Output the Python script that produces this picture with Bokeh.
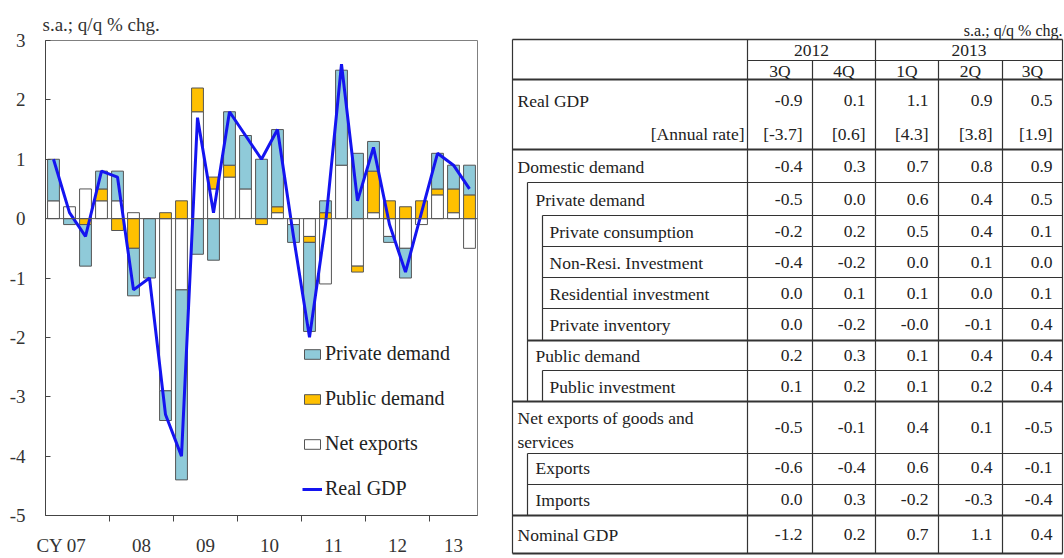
import numpy as np
from bokeh.plotting import figure
from bokeh.models import (Range1d, FixedTicker, Span, Legend, LegendItem, ColumnDataSource)
from bokeh.layouts import row
from bokeh.embed import file_html
from bokeh.resources import INLINE
from bokeh.core.properties import value

# ---------------- chart data (2007Q1 .. 2013Q3) ----------------
year_labels = ["CY 07", "08", "09", "10", "11", "12", "13"]
net_exports = [0.3, 0.2, 0.5, 0.3, 0.3, 0.1, 0.0, -2.9, -1.2, 1.8, 0.5, 0.7, 0.5, 0.0,
               0.1, -0.1, -0.3, -1.1, 0.9, -0.8, 0.1, -0.3, -0.5, -0.1, 0.4, 0.1, -0.5]
public_demand = [0.0, 0.0, -0.1, 0.2, -0.2, -0.5, 0.0, 0.1, 0.3, 0.4, 0.2, 0.2, 0.0, -0.1,
                 0.1, 0.0, -0.1, 0.1, 0.0, -0.1, 0.7, 0.3, 0.2, 0.3, 0.1, 0.4, 0.4]
private_demand = [0.7, -0.1, -0.7, 0.3, 0.5, -0.8, -1.0, -0.5, -3.2, -0.6, -0.7, 0.9, 0.9, 1.0,
                  1.3, -0.3, -1.5, 0.2, 1.6, 1.1, 0.5, -0.1, -0.5, 0.0, 0.6, 0.4, 0.5]
real_gdp = [1.0, 0.1, -0.3, 0.8, 0.7, -1.2, -1.0, -3.3, -4.0, 1.7, 0.1, 1.8, 1.4, 1.0,
            1.5, -0.3, -2.0, -0.1, 2.6, 0.3, 1.2, -0.1, -0.9, 0.1, 1.1, 0.9, 0.5]

# ---------------- table data ----------------
tbl_years = ["2012", "2013"]
tbl_quarters = ["3Q", "4Q", "1Q", "2Q", "3Q"]
tbl_real_gdp = [-0.9, 0.1, 1.1, 0.9, 0.5]
tbl_annual_rate = [-3.7, 0.6, 4.3, 3.8, 1.9]
tbl_domestic = [-0.4, 0.3, 0.7, 0.8, 0.9]
tbl_private = [-0.5, 0.0, 0.6, 0.4, 0.5]
tbl_consumption = [-0.2, 0.2, 0.5, 0.4, 0.1]
tbl_nonresi = [-0.4, -0.2, 0.0, 0.1, 0.0]
tbl_residential = [0.0, 0.1, 0.1, 0.0, 0.1]
tbl_inventory = [0.0, -0.2, -0.0, -0.1, 0.4]
tbl_public = [0.2, 0.3, 0.1, 0.4, 0.4]
tbl_public_inv = [0.1, 0.2, 0.1, 0.2, 0.4]
tbl_net_exports = [-0.5, -0.1, 0.4, 0.1, -0.5]
tbl_exports = [-0.6, -0.4, 0.6, 0.4, -0.1]
tbl_imports = [0.0, 0.3, -0.2, -0.3, -0.4]
tbl_nominal = [-1.2, 0.2, 0.7, 1.1, 0.4]

FONT = "Liberation Serif"
SERIF = value(FONT)
TXT = "#222222"
AX = "#333333"

# ================= left chart =================
n = len(real_gdp)
xq = np.arange(n) + 0.5

p = figure(width=500, height=558, x_range=Range1d(0, n), y_range=Range1d(-5, 3),
           output_backend="svg", toolbar_location=None,
           min_border_left=45, min_border_right=23, min_border_top=40, min_border_bottom=34)
p.frame_align = False
p.grid.visible = False
p.outline_line_color = "#808080"
p.outline_line_width = 1
p.title.text = "s.a.; q/q % chg."
p.title.align = "left"
p.title.offset = -3
p.title.standoff = 12
p.title.text_font = FONT
p.title.text_font_size = "19px"
p.title.text_font_style = "normal"
p.title.text_color = AX

series = [("Net exports", net_exports, "#FFFFFF"),
          ("Public demand", public_demand, "#FFC000"),
          ("Private demand", private_demand, "#8FCAD9")]
pos = np.zeros(n)
neg = np.zeros(n)
rend = {}
for name, vals, color in series:
    v = np.array(vals, dtype=float)
    bottom = np.where(v >= 0, pos, neg)
    top = bottom + v
    pos = np.where(v >= 0, top, pos)
    neg = np.where(v < 0, top, neg)
    m = v != 0
    src = ColumnDataSource(dict(x=xq[m], bottom=bottom[m], top=top[m]))
    rend[name] = p.vbar(x="x", bottom="bottom", top="top", width=0.74, source=src,
                        fill_color=color, line_color="#555555", line_width=1)

p.add_layout(Span(location=0, dimension="width", line_color="#555555", line_width=1))

gdp_r = p.line(xq, real_gdp, line_color="#1414F0", line_width=3)

# axes
yt = list(range(-5, 4))
p.yaxis.ticker = FixedTicker(ticks=yt)
p.yaxis.major_label_overrides = {t_: str(t_) for t_ in yt}
p.yaxis.major_tick_in = 5
p.yaxis.major_tick_out = 0
p.yaxis.minor_tick_line_color = None
p.yaxis.major_label_standoff = 20
p.yaxis.major_label_text_font = FONT
p.yaxis.major_label_text_font_size = "19px"
p.yaxis.major_label_text_color = AX
p.yaxis.axis_line_color = "#444444"
p.yaxis.major_tick_line_color = "#444444"

year_starts = list(range(0, n, 4))
centers = [(s + min(s + 4, n)) / 2 for s in year_starts]
centers[0] = 1.0  # "CY 07" label sits toward the left edge
p.xaxis.ticker = FixedTicker(ticks=centers, minor_ticks=year_starts[1:])
p.xaxis.major_label_overrides = {c: lab for c, lab in zip(centers, year_labels)}
p.xaxis.major_tick_in = 0
p.xaxis.major_tick_out = 0
p.xaxis.minor_tick_in = 0
p.xaxis.minor_tick_out = 6
p.xaxis.minor_tick_line_color = "#444444"
p.xaxis.major_label_standoff = 13
p.xaxis.major_label_text_font = FONT
p.xaxis.major_label_text_font_size = "19px"
p.xaxis.major_label_text_color = AX
p.xaxis.axis_line_color = "#444444"

legend = Legend(items=[LegendItem(label="Private demand", renderers=[rend["Private demand"]]),
                       LegendItem(label="Public demand", renderers=[rend["Public demand"]]),
                       LegendItem(label="Net exports", renderers=[rend["Net exports"]]),
                       LegendItem(label="Real GDP", renderers=[gdp_r])],
                location=(257, 15), background_fill_alpha=0, border_line_alpha=0,
                label_text_font=FONT, label_text_font_size="20px", label_text_color=TXT,
                glyph_width=20, glyph_height=12, label_height=22, spacing=22,
                padding=0, margin=0, label_standoff=3)
p.add_layout(legend)

# ================= right table =================
t = figure(width=564, height=558, x_range=Range1d(500, 1064), y_range=Range1d(558, 0),
           output_backend="svg", toolbar_location=None, min_border=0,
           x_axis_location=None, y_axis_location=None, outline_line_color=None)
t.frame_align = False
t.grid.visible = False

L, IND1, IND2 = 512, 527, 542
col_edges = [747, 812, 875, 938, 1002, 1062]
TOP, BOT = 39, 553
FS = "17.5px"

rows = [  # (label lines, label x, label ys, values, fmt, value y)
    (["Real GDP"], L + 5, [100], tbl_real_gdp, "{:.1f}", 100),
    (["[Annual rate]"], None, [133], tbl_annual_rate, "[{:.1f}]", 133),
    (["Domestic demand"], L + 5, [166], tbl_domestic, "{:.1f}", 166),
    (["Private demand"], IND1 + 8, [199], tbl_private, "{:.1f}", 199),
    (["Private consumption"], IND2 + 7, [231], tbl_consumption, "{:.1f}", 231),
    (["Non-Resi. Investment"], IND2 + 7, [262], tbl_nonresi, "{:.1f}", 262),
    (["Residential investment"], IND2 + 7, [293], tbl_residential, "{:.1f}", 293),
    (["Private inventory"], IND2 + 7, [324], tbl_inventory, "{:.1f}", 324),
    (["Public demand"], IND1 + 8, [355], tbl_public, "{:.1f}", 355),
    (["Public investment"], IND2 + 7, [386], tbl_public_inv, "{:.1f}", 386),
    (["Net exports of goods and", "services"], L + 5, [417, 441], tbl_net_exports, "{:.1f}", 427),
    (["Exports"], IND1 + 8, [467], tbl_exports, "{:.1f}", 467),
    (["Imports"], IND1 + 8, [499], tbl_imports, "{:.1f}", 499),
    (["Nominal GDP"], L + 5, [534], tbl_nominal, "{:.1f}", 534),
]

lx, ly, lt = [], [], []
rx, ry, rt = [], [], []
for labels, x0, ys, vals, fmt, vy in rows:
    if x0 is None:
        rx.append(col_edges[0] - 3); ry.append(ys[0]); rt.append(labels[0])
    else:
        for lab, yy in zip(labels, ys):
            lx.append(x0); ly.append(yy); lt.append(lab)
    for j, v in enumerate(vals):
        rx.append(col_edges[j + 1] - 10); ry.append(vy); rt.append(fmt.format(v))

t.text(x=lx, y=ly, text=lt, text_font=SERIF, text_font_size=FS, text_color=TXT,
       text_align="left", text_baseline="middle")
t.text(x=rx, y=ry, text=rt, text_font=SERIF, text_font_size=FS, text_color=TXT,
       text_align="right", text_baseline="middle")

# headers
hx = [(col_edges[0] + col_edges[2]) / 2, (col_edges[2] + col_edges[5]) / 2]
t.text(x=hx, y=[50, 50], text=tbl_years, text_font=SERIF, text_font_size=FS,
       text_color=TXT, text_align="center", text_baseline="middle")
qx = [(col_edges[j] + col_edges[j + 1]) / 2 for j in range(5)]
t.text(x=qx, y=[70] * 5, text=tbl_quarters, text_font=SERIF, text_font_size=FS,
       text_color=TXT, text_align="center", text_baseline="middle")
t.text(x=[1062], y=[30], text=["s.a.; q/q % chg."], text_font=SERIF, text_font_size="16px",
       text_color=TXT, text_align="right", text_baseline="middle")

R = col_edges[-1]
# horizontal rules: (x_start, y, width)
hrules = [(L, TOP, 1.5), (col_edges[0], 60, 1), (L, 79, 2), (L, 149, 2),
          (IND1, 182, 1), (IND2, 215, 1), (IND2, 246, 1), (IND2, 277, 1), (IND2, 308, 1),
          (IND1, 340, 2), (IND2, 370, 1), (L, 401, 2), (IND1, 453, 1), (IND1, 484, 1),
          (L, 515, 2), (L, BOT, 2)]
for x0, yy, w in hrules:
    t.segment(x0=[x0], y0=[yy], x1=[R], y1=[yy], line_color="#333333", line_width=w)

# vertical rules: (x, y0, y1)
vrules = [(L, TOP, BOT), (IND1, 182, 401), (IND1, 453, 515), (IND2, 215, 340), (IND2, 370, 401),
          (col_edges[0], TOP, BOT), (col_edges[1], 60, BOT), (col_edges[2], TOP, BOT),
          (col_edges[3], 60, BOT), (col_edges[4], 60, BOT), (col_edges[5], TOP, BOT)]
for xx, y0, y1 in vrules:
    t.segment(x0=[xx], y0=[y0], x1=[xx], y1=[y1], line_color="#333333", line_width=1.2)

layout = row(p, t)
open("out.html", "w").write(file_html(layout, INLINE))
